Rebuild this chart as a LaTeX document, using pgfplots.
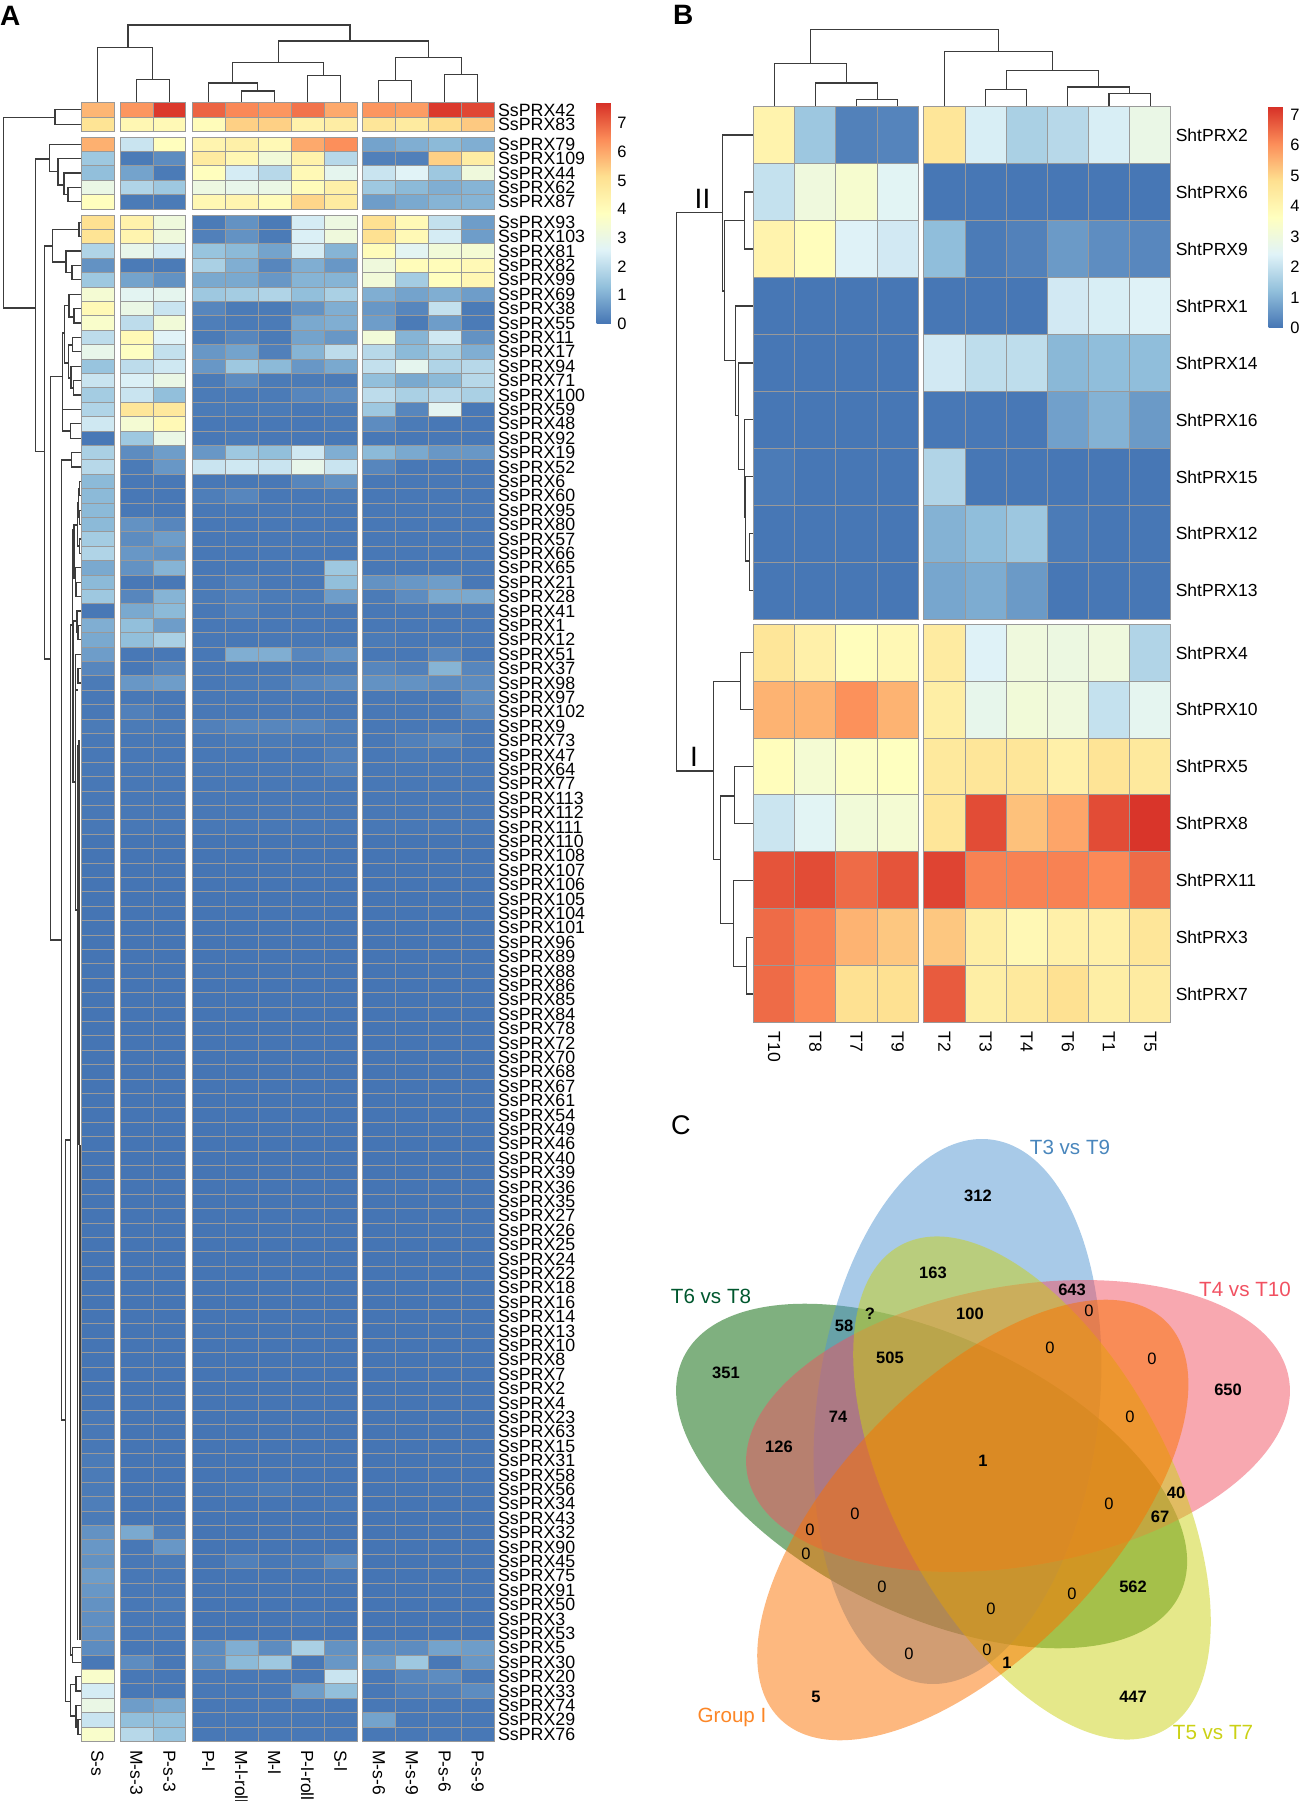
\documentclass[border=0pt]{standalone}
\usepackage{fontspec}
\setmainfont{Liberation Sans}
\usepackage{pgfplots}
\usepackage{pgfplotstable}
\pgfplotsset{compat=1.18}
\pgfplotsset{/pgf/number format/assume math mode=true}
\newcommand\fs[1]{\fontsize{#1}{#1}\selectfont}
\definecolor{cellgray}{HTML}{999999}
\definecolor{dend}{HTML}{3C3C3C}
\definecolor{vblue}{HTML}{5195D1}
\definecolor{vpink}{HTML}{F15161}
\definecolor{vgreen}{HTML}{006100}
\definecolor{vorange}{HTML}{FB7100}
\definecolor{vyellow}{HTML}{CBD115}
\pgfplotsset{
  colormap={rdylbu}{rgb255=(69,117,180) rgb255=(145,191,219) rgb255=(224,243,248) rgb255=(255,255,191) rgb255=(254,224,144) rgb255=(252,141,89) rgb255=(215,48,39)},
  hm/.style={scale only axis, clip=false, y dir=reverse, axis line style={draw=none}, major tick length=0pt,
    colormap name=rdylbu, point meta min=0, xticklabel pos=lower, yticklabel pos=right,
    xticklabel style={rotate=-90, anchor=west, font=\fs{17.5}, inner sep=0pt, xshift=9pt, yshift=0pt},
    yticklabel style={anchor=west, inner sep=0pt, xshift=3.8pt}},
  cell/.style={scatter, only marks, scatter src=explicit, mark=#1, mark options={line width=0.9pt},
    scatter/use mapped color={draw=cellgray, fill=mapped color}, forget plot},
  dendro/.style={dend, line width=1.15pt, no markers, unbounded coords=jump, forget plot},
}
\pgfdeclareplotmark{cellA}{\pgfpathrectangle{\pgfpoint{-16.45pt}{-7.2pt}}{\pgfpoint{32.9pt}{14.4pt}}\pgfusepathqfillstroke}
\pgfdeclareplotmark{cellB}{\pgfpathrectangle{\pgfpoint{-20.6pt}{-28.45pt}}{\pgfpoint{41.2pt}{56.9pt}}\pgfusepathqfillstroke}
\pgfplotstableread{
name y a b c d e f g h i j k l
SsPRX42 109.9 5.8 6.3 7.6 7.0 6.5 6.3 6.8 6.0 6.3 6.2 7.6 7.4
SsPRX83 124.3 5.0 4.2 4.1 4.0 5.4 5.4 4.4 4.6 4.9 4.7 5.2 5.5
SsPRX79 144.2 5.9 2.2 3.9 4.3 4.5 4.1 6.0 6.4 0.8 1.0 1.2 1.0
SsPRX109 158.6 1.5 0.1 0.4 4.7 4.2 3.3 4.4 1.9 0.2 0.2 5.4 4.6
SsPRX44 173.0 1.3 0.8 0.1 3.9 2.4 1.9 4.1 2.8 2.2 2.6 1.5 3.2
SsPRX62 187.4 3.0 1.8 1.5 3.1 2.9 3.0 4.0 4.5 1.5 1.2 1.0 1.1
SsPRX87 201.8 3.9 0.1 0.1 4.2 4.3 4.0 5.3 4.7 0.7 0.9 1.1 1.1
SsPRX93 222.2 5.1 4.4 3.2 0.1 0.5 0.1 2.4 3.1 5.1 4.1 2.1 0.7
SsPRX103 236.6 5.0 4.3 3.2 0.2 0.5 0.1 2.5 3.2 5.1 4.1 2.4 0.7
SsPRX81 251.0 1.8 2.9 2.4 1.4 1.2 0.8 2.4 1.1 4.0 2.7 3.3 3.4
SsPRX82 265.4 0.5 0.1 0.1 1.7 1.0 0.3 1.0 0.6 3.2 4.0 4.0 4.1
SsPRX99 279.8 1.5 0.8 0.5 0.9 0.9 0.6 1.1 1.1 3.3 1.6 3.9 4.2
SsPRX69 294.2 3.4 2.7 2.8 1.5 1.6 1.8 1.3 1.7 1.0 0.8 1.0 0.7
SsPRX38 308.6 4.1 3.0 2.2 0.3 0.1 0.1 0.5 1.0 0.6 0.3 2.1 0.1
SsPRX55 323.0 3.6 2.0 3.3 0.15 0.1 0.1 0.9 1.0 0.7 0.1 0.7 0.1
SsPRX11 337.4 2.0 4.1 2.6 0.1 0.3 0.1 0.8 0.6 3.3 1.1 2.3 0.5
SsPRX17 351.8 2.9 3.8 2.1 0.6 0.8 0.2 1.1 2.0 1.9 1.2 1.7 1.0
SsPRX94 366.2 1.4 2.0 2.3 0.6 1.5 1.2 0.6 0.9 2.1 2.8 1.8 1.9
SsPRX71 380.6 2.2 2.5 3.0 0.1 0.4 0.1 0.1 0.1 1.3 0.9 1.2 1.9
SsPRX100 395.0 1.6 2.2 1.3 0.1 0.1 0.1 0.3 0.4 2.0 1.7 1.9 1.7
SsPRX59 409.4 1.8 4.9 4.8 0.1 0.1 0.1 0.05 0.1 1.5 0.3 2.7 0.05
SsPRX48 423.8 2.3 3.4 4.1 0.05 0.05 0.05 0.05 0.1 0.4 0.1 0.05 0.05
SsPRX92 438.2 0.05 1.5 3.0 0.05 0.1 0.05 0.05 0.05 0.05 0.05 0.05 0.05
SsPRX19 452.6 1.7 0.4 0.7 0.6 1.5 1.3 2.3 1.0 1.2 0.9 0.6 0.6
SsPRX52 467.0 1.9 0.1 0.6 2.2 2.3 2.2 2.9 2.2 0.3 0.05 0.05 0.05
SsPRX6 481.4 1.2 0.05 0.05 0.05 0.05 0.05 0.3 0.5 0.05 0.05 0.05 0.05
SsPRX60 495.8 1.2 0.05 0.05 0.15 0.3 0.05 0.05 0.1 0.05 0.05 0.05 0.05
SsPRX95 510.2 1.2 0.05 0.05 0.05 0.05 0.05 0.05 0.05 0.05 0.05 0.05 0.05
SsPRX80 524.6 1.2 0.5 0.3 0.05 0.05 0.05 0.05 0.05 0.05 0.05 0.05 0.05
SsPRX57 539.0 1.6 0.4 0.7 0.05 0.05 0.05 0.05 0.05 0.05 0.05 0.05 0.05
SsPRX66 553.4 1.8 0.6 0.5 0.05 0.05 0.05 0.05 0.05 0.05 0.05 0.05 0.05
SsPRX65 567.8 0.9 0.5 1.1 0.05 0.05 0.05 0.05 1.5 0.05 0.05 0.05 0.05
SsPRX21 582.2 1.2 0.05 0.05 0.05 0.2 0.05 0.05 1.3 0.5 0.6 0.7 0.05
SsPRX28 596.6 1.5 0.3 1.1 0.1 0.2 0.1 0.1 0.7 0.1 0.4 0.9 0.9
SsPRX41 611.0 0.05 0.9 1.2 0.05 0.2 0.05 0.05 0.05 0.05 0.05 0.05 0.05
SsPRX1 625.4 1.0 1.3 0.7 0.05 0.05 0.05 0.05 0.05 0.05 0.05 0.05 0.05
SsPRX12 639.8 0.9 1.3 1.7 0.05 0.05 0.05 0.05 0.05 0.1 0.05 0.05 0.05
SsPRX51 654.2 0.7 0.05 0.05 0.05 1.0 1.0 0.3 0.5 0.05 0.05 0.3 0.05
SsPRX37 668.6 0.3 0.05 0.3 0.05 0.05 0.05 0.05 0.1 0.3 0.2 1.1 0.3
SsPRX98 683.0 0.1 0.6 0.7 0.05 0.1 0.1 0.3 0.4 0.5 0.5 0.4 0.4
SsPRX97 697.4 0.05 0.05 0.05 0.05 0.05 0.05 0.05 0.05 0.05 0.05 0.05 0.4
SsPRX102 711.8 0.05 0.2 0.05 0.05 0.05 0.05 0.05 0.05 0.05 0.05 0.05 0.3
SsPRX9 726.2 0.1 0.1 0.1 0.2 0.3 0.3 0.3 0.15 0.05 0.05 0.05 0.05
SsPRX73 740.6 0.05 0.05 0.05 0.05 0.1 0.1 0.05 0.1 0.05 0.2 0.3 0.05
SsPRX47 755.0 0.05 0.05 0.05 0.05 0.05 0.05 0.05 0.2 0.05 0.1 0.05 0.05
SsPRX64 769.4 0.05 0.05 0.05 0.05 0.05 0.05 0.05 0.2 0.05 0.05 0.05 0.05
SsPRX77 783.8 0.05 0.05 0.05 0.05 0.05 0.05 0.05 0.05 0.05 0.05 0.05 0.05
SsPRX113 798.2 0.05 0.05 0.05 0.05 0.05 0.05 0.05 0.05 0.05 0.05 0.05 0.05
SsPRX112 812.6 0.05 0.05 0.05 0.05 0.05 0.05 0.05 0.05 0.05 0.05 0.05 0.05
SsPRX111 827.0 0.05 0.05 0.05 0.05 0.05 0.05 0.05 0.05 0.05 0.05 0.05 0.05
SsPRX110 841.4 0 0 0 0 0 0 0 0 0 0 0 0
SsPRX108 855.8 0 0 0 0 0 0 0 0 0 0 0 0
SsPRX107 870.2 0 0 0 0 0 0 0 0 0 0 0 0
SsPRX106 884.6 0 0 0 0 0 0 0 0 0 0 0 0
SsPRX105 899.0 0 0 0 0 0 0 0 0 0 0 0 0
SsPRX104 913.4 0 0 0 0 0 0 0 0 0 0 0 0
SsPRX101 927.8 0 0 0 0 0 0 0 0 0 0 0 0
SsPRX96 942.2 0 0 0 0 0 0 0 0 0 0 0 0
SsPRX89 956.6 0 0 0 0 0 0 0 0 0 0 0 0
SsPRX88 971.0 0 0 0 0 0 0 0 0 0 0 0 0
SsPRX86 985.4 0 0 0 0 0 0 0 0 0 0 0 0
SsPRX85 999.8 0 0 0 0 0 0 0 0 0 0 0 0
SsPRX84 1014.2 0 0 0 0 0 0 0 0 0 0 0 0
SsPRX78 1028.6 0 0 0 0 0 0 0 0 0 0 0 0
SsPRX72 1043.0 0 0 0 0 0 0 0 0 0 0 0 0
SsPRX70 1057.4 0 0 0 0 0 0 0 0 0 0 0 0
SsPRX68 1071.8 0 0 0 0 0 0 0 0 0 0 0 0
SsPRX67 1086.2 0 0 0 0 0 0 0 0 0 0 0 0
SsPRX61 1100.6 0 0 0 0 0 0 0 0 0 0 0 0
SsPRX54 1115.0 0 0 0 0 0 0 0 0 0 0 0 0
SsPRX49 1129.4 0 0 0 0 0 0 0 0 0 0 0 0
SsPRX46 1143.8 0 0 0 0 0 0 0 0 0 0 0 0
SsPRX40 1158.2 0 0 0 0 0 0 0 0 0 0 0 0
SsPRX39 1172.6 0 0 0 0 0 0 0 0 0 0 0 0
SsPRX36 1187.0 0 0 0 0 0 0 0 0 0 0 0 0
SsPRX35 1201.4 0 0 0 0 0 0 0 0 0 0 0 0
SsPRX27 1215.8 0 0 0 0 0 0 0 0 0 0 0 0
SsPRX26 1230.2 0 0 0 0 0 0 0 0 0 0 0 0
SsPRX25 1244.6 0 0 0 0 0 0 0 0 0 0 0 0
SsPRX24 1259.0 0 0 0 0 0 0 0 0 0 0 0 0
SsPRX22 1273.4 0 0 0 0 0 0 0 0 0 0 0 0
SsPRX18 1287.8 0 0 0 0 0 0 0 0 0 0 0 0
SsPRX16 1302.2 0 0 0 0 0 0 0 0 0 0 0 0
SsPRX14 1316.6 0 0 0 0 0 0 0 0 0 0 0 0
SsPRX13 1331.0 0 0 0 0 0 0 0 0 0 0 0 0
SsPRX10 1345.4 0 0 0 0 0 0 0 0 0 0 0 0
SsPRX8 1359.8 0 0 0 0 0 0 0 0 0 0 0 0
SsPRX7 1374.2 0 0 0 0 0 0 0 0 0 0 0 0
SsPRX2 1388.6 0 0 0 0 0 0 0 0 0 0 0 0
SsPRX4 1403.0 0 0 0 0 0 0 0 0 0 0 0 0
SsPRX23 1417.4 0.05 0 0 0 0 0 0 0 0 0 0 0
SsPRX63 1431.8 0.05 0 0 0 0 0 0 0 0 0 0 0
SsPRX15 1446.2 0.05 0 0 0 0 0 0 0 0 0 0 0
SsPRX31 1460.6 0.1 0 0 0 0 0 0 0 0 0 0 0
SsPRX58 1475.0 0.1 0 0 0 0 0 0 0 0 0 0 0
SsPRX56 1489.4 0.1 0 0 0 0.05 0.1 0 0 0 0 0 0
SsPRX34 1503.8 0.15 0 0 0 0 0 0 0.05 0 0 0 0
SsPRX43 1518.2 0.1 0 0 0 0 0 0 0 0 0 0 0
SsPRX32 1532.6 0.5 0.9 0.15 0 0 0 0 0 0 0 0 0
SsPRX90 1547.0 0.6 0.05 0.6 0 0 0 0 0 0 0 0 0
SsPRX45 1561.4 0.5 0.05 0.1 0 0.2 0.05 0.1 0.4 0 0 0 0
SsPRX75 1575.8 0.7 0.05 0.05 0 0 0 0 0.05 0 0 0 0
SsPRX91 1590.2 0.6 0.05 0.05 0 0 0 0 0 0 0 0 0
SsPRX50 1604.6 0.5 0.05 0.1 0 0 0 0 0 0 0 0 0
SsPRX3 1619.0 0.45 0.05 0.05 0 0 0 0.05 0 0 0 0 0
SsPRX53 1633.4 0.45 0.05 0.05 0 0 0 0 0 0 0 0 0
SsPRX5 1647.8 0.4 0.05 0.05 0.4 1.0 0.4 1.7 0.5 0.4 0.4 0.8 0.7
SsPRX30 1662.2 0.05 0.4 0.05 0.4 1.2 1.5 0.05 0.6 0.7 1.5 0.05 0.6
SsPRX20 1676.6 3.6 0.05 0.05 0.05 0.05 0.05 0.05 2.2 0.05 0.3 0.4 0.05
SsPRX33 1691.0 2.4 0.05 0.05 0.05 0.05 0.05 0.7 1.3 0.05 0.2 0.2 0.4
SsPRX74 1705.4 3.0 0.7 0.9 0.05 0.05 0.05 0.05 0.05 0.05 0.05 0.05 0.05
SsPRX29 1719.8 2.2 1.3 1.3 0.05 0.05 0.05 0.05 0.05 0.8 0.05 0.05 0.05
SsPRX76 1734.2 3.6 1.9 1.4 0.05 0.05 0.05 0.05 0.05 0.05 0.05 0.05 0.05
}\tblA
\pgfplotstableread{
name y a b c d e f g h i j
ShtPRX2 135 4.1 1.4 0.2 0.25 4.6 2.3 1.6 1.8 2.3 2.8
ShtPRX6 192 2.0 3.0 3.3 2.5 0.03 0.03 0.03 0.03 0.03 0.03
ShtPRX9 249 4.1 3.7 2.4 2.2 1.2 0.1 0.2 0.6 0.4 0.3
ShtPRX1 306 0.03 0.03 0.03 0.03 0.03 0.03 0.03 2.2 2.3 2.4
ShtPRX14 363 0.03 0.03 0.03 0.03 2.2 1.9 1.9 1.1 1.2 1.2
ShtPRX16 419.8 0.03 0.03 0.03 0.03 0.05 0.05 0.05 0.7 1.0 0.6
ShtPRX15 476.8 0.1 0.03 0.03 0.03 1.7 0.03 0.03 0.03 0.03 0.03
ShtPRX12 533.7 0.03 0.03 0.03 0.03 1.0 1.2 1.4 0.1 0.03 0.03
ShtPRX13 590.6 0.03 0.03 0.03 0.03 0.8 0.9 0.6 0.03 0.03 0.03
ShtPRX4 652.9 4.6 4.2 3.7 3.9 4.4 2.4 3.0 2.9 3.0 1.7
ShtPRX10 709.7 5.5 5.5 6.0 5.5 4.3 2.7 3.1 3.0 2.0 2.6
ShtPRX5 766.6 3.7 3.2 3.5 3.6 4.5 4.6 4.6 4.2 4.7 4.5
ShtPRX8 823.4 2.1 2.5 3.1 3.2 4.6 6.9 5.3 5.7 6.9 7.2
ShtPRX11 880.3 6.8 6.9 6.5 6.8 7.0 6.2 6.2 6.2 6.1 6.5
ShtPRX3 937.2 6.5 6.2 5.5 5.2 5.2 4.3 3.9 4.2 4.2 4.6
ShtPRX7 994 6.5 6.1 4.8 4.8 6.7 4.3 4.5 4.8 4.3 4.4
}\tblB
\newcommand\colA[2]{\addplot[cell=cellA] table[x expr=#1, y=y, meta=#2]{\tblA};}
\newcommand\colB[2]{\addplot[cell=cellB] table[x expr=#1, y=y, meta=#2]{\tblB};}
\begin{document}
\begin{tikzpicture}
\useasboundingbox (0,0) rectangle (1299pt,1801pt);
% ---------------- Panel A
\begin{axis}[hm, at={(81pt,60pt)}, anchor=south west, width=413pt, height=1638.3pt,
  xmin=81, xmax=494, ymin=102.7, ymax=1741, point meta max=7.72,
  xtick={97.5,136.5,169.4,208.5,241.5,274.5,307.5,340.5,378.9,411.8,444.7,477.6},
  xticklabels={S-s,M-s-3,P-s-3,P-l,M-l-roll,M-l,P-l-roll,S-l,M-s-6,M-s-9,P-s-6,P-s-9},
  ytick=data, yticklabels from table={\tblA}{name},
  yticklabel style={font=\fs{17.8}},
  colorbar,
  colorbar style={at={(parent axis.north west)}, anchor=north west, xshift=507pt,
    width=14.7pt, height=221.3pt, ytick={0,1,...,7}, major tick length=0pt, axis line style={draw=none},
    yticklabel style={font=\fs{16.5}, inner sep=0pt, xshift=6pt}, y dir=normal},
]
\colA{97.5}{a}\colA{136.5}{b}\colA{169.4}{c}\colA{208.5}{d}\colA{241.5}{e}\colA{274.5}{f}
\colA{307.5}{g}\colA{340.5}{h}\colA{378.9}{i}\colA{411.8}{j}\colA{444.7}{k}\colA{477.6}{l}
% top dendrogram
\addplot[dendro] coordinates {
(128,47.3)(128,25)(350,25)(350,41) (nan,nan)
(97.5,102.7)(97.5,47.3)(152.8,47.3)(152.8,79.7) (nan,nan)
(136.5,102.7)(136.5,79.7)(169.4,79.7)(169.4,102.7) (nan,nan)
(278.2,62.7)(278.2,41)(428.5,41)(428.5,57.7) (nan,nan)
(232.7,83)(232.7,62.7)(323.2,62.7)(323.2,75.7) (nan,nan)
(208.5,102.7)(208.5,83)(257.6,83)(257.6,91) (nan,nan)
(241.5,102.7)(241.5,91)(274.5,91)(274.5,102.7) (nan,nan)
(307.5,102.7)(307.5,75.7)(340.5,75.7)(340.5,102.7) (nan,nan)
(395.2,80.7)(395.2,57.7)(461.3,57.7)(461.3,74.7) (nan,nan)
(378.9,102.7)(378.9,80.7)(411.8,80.7)(411.8,102.7) (nan,nan)
(444.7,102.7)(444.7,74.7)(477.6,74.7)(477.6,102.7)
};
% left dendrogram
\addplot[dendro] coordinates {
(81,109.9)(55,109.9)(55,124.3)(81,124.3) (nan,nan)
(55,117.1)(3.7,117.1)(3.7,308)(35.5,308) (nan,nan)
(49.7,159)(35.5,159)(35.5,451.7)(44.3,451.7) (nan,nan)
(81,144.2)(49.7,144.2)(49.7,171.3)(58,171.3) (nan,nan)
(81,158.6)(58,158.6)(58,185)(64,185) (nan,nan)
(81,173)(64,173)(64,194.5)(68,194.5) (nan,nan)
(81,187.4)(68,187.4)(68,201.8)(81,201.8) (nan,nan)
(52.7,246)(44.3,246)(44.3,659)(50.7,659) (nan,nan)
(79,229.4)(52.7,229.4)(52.7,262)(66,262) (nan,nan)
(81,222.2)(79,222.2)(79,236.6)(81,236.6) (nan,nan)
(81,251)(66,251)(66,272.6)(72,272.6) (nan,nan)
(81,265.4)(72,265.4)(72,279.8)(81,279.8) (nan,nan)
(62,376.7)(50.7,376.7)(50.7,940)(61.5,940) (nan,nan)
(64.3,333)(62.3,333)(62.3,420)(62.6,420) (nan,nan)
(81,409.4)(62.6,409.4)(62.6,431)(70.7,431) (nan,nan)
(81,423.8)(70.7,423.8)(70.7,438.2)(81,438.2) (nan,nan)
(69,305.7)(64.3,305.7)(64.3,363)(68.5,363) (nan,nan)
(81,294.2)(69,294.2)(69,317)(74,317) (nan,nan)
(81,308.6)(74,308.6)(74,323)(81,323) (nan,nan)
(72.7,345)(68.5,345)(68.5,378)(71,378) (nan,nan)
(81,337.4)(72.7,337.4)(72.7,351.8)(81,351.8) (nan,nan)
(81,366.2)(71,366.2)(71,388)(73.5,388) (nan,nan)
(81,380.6)(73.5,380.6)(73.5,395)(81,395) (nan,nan)
(71.5,460)(61.9,460)(61.9,1420)(65.7,1420) (nan,nan)
(81,452.6)(71.5,452.6)(71.5,467)(81,467) (nan,nan)
(70.3,1140)(65.7,1140)(65.7,1701.7)(70.5,1701.7) (nan,nan)
(72.5,625)(70.3,625)(70.3,1655)(72.4,1655) (nan,nan)
(81,1647.8)(72.4,1647.8)(72.4,1662.2)(81,1662.2) (nan,nan)
(76,1684.5)(70.5,1684.5)(70.5,1716)(76,1716) (nan,nan)
(81,1676.6)(76,1676.6)(76,1691)(81,1691) (nan,nan)
(81,1705.4)(76,1705.4)(76,1727)(78,1727) (nan,nan)
(81,1719.8)(78,1719.8)(78,1734.2)(81,1734.2) (nan,nan)
(74,530)(72.5,530)(72.5,700)(73,700) (nan,nan)
(77.5,525)(74,525)(74,578)(75.5,578) (nan,nan)
(81,481.4)(79.5,481.4)(79.5,495.8)(81,495.8) (nan,nan)
(81,510.2)(79.5,510.2)(79.5,524.6)(81,524.6) (nan,nan)
(81,539)(79.5,539)(79.5,553.4)(81,553.4) (nan,nan)
(79.5,488.6)(78.5,488.6)(78.5,517.4)(79.5,517.4) (nan,nan)
(78.5,503)(77.5,503)(77.5,546)(79.5,546) (nan,nan)
(81,567.8)(75.5,567.8)(75.5,589.4)(76,589.4) (nan,nan)
(81,582.2)(76,582.2)(76,596.6)(81,596.6) (nan,nan)
(77,621)(73,621)(73,782)(75.7,782) (nan,nan)
(81,611)(77,611)(77,632)(78,632) (nan,nan)
(81,625.4)(78,625.4)(78,639.8)(81,639.8) (nan,nan)
(81,654.2)(75.7,654.2)(75.7,690)(78,690) (nan,nan)
(81,668.6)(78,668.6)(78,683)(81,683) (nan,nan)
(75.7,690)(75.7,910)(78,910) (nan,nan)
(79,740)(79,1145) (nan,nan)
(78,745)(78,910) (nan,nan)
(77.5,910)(77.5,1640) (nan,nan)
(80,1145)(80,1640)
};
\addplot[dend, line width=2.6pt, no markers, forget plot] coordinates {(78.6,760)(78.6,1145)};
\node[font=\bfseries\fs{28}, anchor=west, inner sep=0pt] at (axis cs:0,16) {A};
\end{axis}
% ---------------- Panel B
\begin{axis}[hm, at={(753.5pt,778.5pt)}, anchor=south west, width=417.3pt, height=915.9pt,
  xmin=753.5, xmax=1170.8, ymin=106.6, ymax=1022.5, point meta max=7.26,
  xtick={774.1,815.3,856.4,897.6,944.4,985.6,1026.7,1067.9,1109,1150.2},
  xticklabels={T10,T8,T7,T9,T2,T3,T4,T6,T1,T5},
  ytick=data, yticklabels from table={\tblB}{name},
  yticklabel style={font=\fs{17.5}, xshift=1pt},
  colorbar,
  colorbar style={at={(parent axis.north west)}, anchor=north west, xshift=506.5pt,
    width=14.6pt, height=221.4pt, ytick={0,1,...,7}, major tick length=0pt, axis line style={draw=none},
    yticklabel style={font=\fs{16.5}, inner sep=0pt, xshift=7pt}, y dir=normal},
]
\colB{774.1}{a}\colB{815.3}{b}\colB{856.4}{c}\colB{897.6}{d}\colB{944.4}{e}
\colB{985.6}{f}\colB{1026.7}{g}\colB{1067.9}{h}\colB{1109}{i}\colB{1150.2}{j}
\addplot[dendro] coordinates {
(810.4,63.2)(810.4,29.2)(998.2,29.2)(998.2,51.4) (nan,nan)
(774.1,106.6)(774.1,63.2)(846.2,63.2)(846.2,83) (nan,nan)
(815.3,106.6)(815.3,83)(877.2,83)(877.2,99.2) (nan,nan)
(856.4,106.6)(856.4,99.2)(897.6,99.2)(897.6,106.6) (nan,nan)
(944.4,106.6)(944.4,51.4)(1052.4,51.4)(1052.4,70.4) (nan,nan)
(1006.4,89.7)(1006.4,70.4)(1098.9,70.4)(1098.9,87) (nan,nan)
(985.6,106.6)(985.6,89.7)(1026.7,89.7)(1026.7,106.6) (nan,nan)
(1067.9,106.6)(1067.9,87)(1129.4,87)(1129.4,93.7) (nan,nan)
(1109,106.6)(1109,93.7)(1150.2,93.7)(1150.2,106.6)
};
\addplot[dendro] coordinates {
(722.3,212.6)(676.3,212.6)(676.3,771)(713.8,771) (nan,nan)
(753.5,135)(722.3,135)(722.3,291)(724.8,291) (nan,nan)
(744.4,220.6)(724.8,220.6)(724.8,360.9)(735.8,360.9) (nan,nan)
(753.5,192)(744.4,192)(744.4,249)(753.5,249) (nan,nan)
(753.5,306)(735.8,306)(735.8,415.8)(738.6,415.8) (nan,nan)
(753.5,363)(738.6,363)(738.6,469.6)(744.4,469.6) (nan,nan)
(753.5,419.8)(744.4,419.8)(744.4,517)(745.6,517) (nan,nan)
(753.5,476.8)(745.6,476.8)(745.6,561)(749.2,561) (nan,nan)
(753.5,533.7)(749.2,533.7)(749.2,590.6)(753.5,590.6) (nan,nan)
(740.7,681.3)(713.8,681.3)(713.8,859.3)(720.3,859.3) (nan,nan)
(753.5,652.9)(740.7,652.9)(740.7,709.7)(753.5,709.7) (nan,nan)
(734.6,796)(720.3,796)(720.3,923.3)(733.4,923.3) (nan,nan)
(753.5,766.6)(734.6,766.6)(734.6,823.4)(753.5,823.4) (nan,nan)
(753.5,880.3)(733.4,880.3)(733.4,966.7)(746.4,966.7) (nan,nan)
(753.5,937.2)(746.4,937.2)(746.4,994)(753.5,994)
};
\node[font=\bfseries\fs{28}, anchor=west, inner sep=0pt] at (axis cs:673,15) {B};
\node[font=\fs{28}, inner sep=0pt] at (axis cs:702.5,199) {II};
\node[font=\fs{28}, inner sep=0pt] at (axis cs:694,757) {I};
\end{axis}
% ---------------- Panel C
\begin{axis}[scale only axis, hide axis, clip=false, at={(660pt,0pt)}, anchor=south west, width=639pt, height=701pt,
  xmin=660, xmax=1299, ymin=1100, ymax=1801, y dir=reverse]
\fill[vgreen, opacity=.5, rotate around={-25.4:(axis cs:931.6,1476)}] (axis cs:931.6,1476) ellipse [x radius=275pt, y radius=139pt];
\fill[vblue, opacity=.5, rotate around={83:(axis cs:957.5,1411.5)}] (axis cs:957.5,1411.5) ellipse [x radius=274pt, y radius=141pt];
\fill[vpink, opacity=.5, rotate around={10:(axis cs:1018,1426)}] (axis cs:1018,1426) ellipse [x radius=275pt, y radius=140pt];
\fill[vyellow, opacity=.5, rotate around={118.4:(axis cs:1032,1488)}] (axis cs:1032,1488) ellipse [x radius=276pt, y radius=138pt];
\fill[vorange, opacity=.5, rotate around={46:(axis cs:972.8,1520)}] (axis cs:972.8,1520) ellipse [x radius=277pt, y radius=135pt];
\addplot[draw=none, no markers, forget plot, point meta=explicit symbolic, nodes near coords,
  nodes near coords style={anchor=center, inner sep=0pt, font=\bfseries\fs{16.5}, xshift=2pt, yshift=-4pt}] table[meta=t] {
x y t
976 1192 312
931 1269 163
1070 1286 643
968 1310 100
868 1310 ?
842 1322 58
888 1354 505
724 1369 351
836 1413 74
777 1443 126
981 1457 1
1174 1489 40
1158 1513 67
1131 1583 562
1005 1659 1
814 1693 5
1131 1693 447
1226 1386 650
};
\addplot[draw=none, no markers, forget plot, point meta=explicit symbolic, nodes near coords,
  nodes near coords style={anchor=center, inner sep=0pt, font=\fs{16.5}, xshift=2pt, yshift=-4pt}] table[meta=t] {
x y t
1087 1307 0
1048 1344 0
1150 1355 0
1128 1413 0
1107 1500 0
853 1510 0
808 1526 0
804 1550 0
880 1583 0
1070 1590 0
989 1605 0
907 1650 0
985 1646 0
};
\node[font=\fs{27}, anchor=west, inner sep=0pt] at (axis cs:671,1125) {C};
\node[font=\fs{20.6}, text=vblue!90!black, inner sep=0pt] at (axis cs:1070,1147) {T3 vs T9};
\node[font=\fs{20.6}, text=vpink, inner sep=0pt] at (axis cs:1245,1289) {T4 vs T10};
\node[font=\fs{20.6}, text=vgreen!70!cyan!60!black, inner sep=0pt] at (axis cs:711,1296) {T6 vs T8};
\node[font=\fs{20.6}, text=vorange!85!white, inner sep=0pt] at (axis cs:732,1717) {Group I};
\node[font=\fs{20.6}, text=vyellow, inner sep=0pt] at (axis cs:1213,1733) {T5 vs T7};
\end{axis}
\end{tikzpicture}
\end{document}
